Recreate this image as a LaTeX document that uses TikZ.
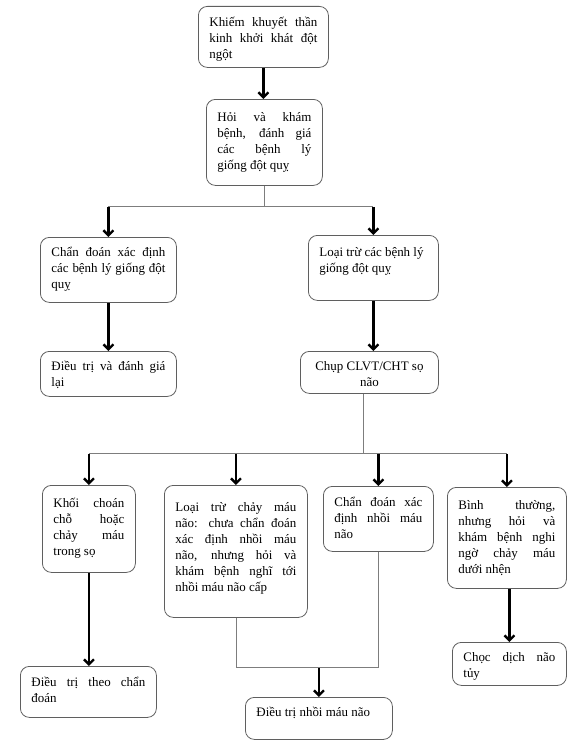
\documentclass[tikz,border=0pt]{standalone}
\usepackage{fontspec}
\setmainfont{Liberation Serif}
\usetikzlibrary{arrows.meta, positioning, calc}
\definecolor{BoxEdge}{RGB}{95,95,95}
\definecolor{LinkGrey}{RGB}{125,125,125}
% text block of a box: width, height, top shift, text
\newcommand{\flowtext}[4]{\parbox[c][#2bp][t]{\dimexpr#1bp-22bp\relax}{\fontsize{13}{16}\selectfont\mbox{}\par\vspace*{\dimexpr3bp+#3bp\relax}#4}}

\begin{document}
\begin{tikzpicture}[x=1bp, y=-1bp,
    flowbox/.style={draw=BoxEdge, line width=0.8pt, rounded corners=9pt, anchor=north west, inner xsep=11bp, inner ysep=0pt},
    link/.style={draw=LinkGrey, line width=0.8pt},
    arr/.style={draw=black, line width=2.4pt, -{Straight Barb[length=5pt,width=10pt]}}]

\useasboundingbox (0,0) rectangle (576,743);

\foreach \n/\x/\y/\w/\h/\dy/\t in {%
    onset/198/6/130/61/1/{Khiếm khuyết thần\linebreak kinh khởi khát đột\linebreak ngột},
    assess/206/99/116/86/3/{Hỏi và khám\linebreak bệnh, đánh giá\linebreak các bệnh lý\linebreak giống đột quỵ},
    mimicdx/40/237/136/65/0/{Chẩn đoán xác định\linebreak các bệnh lý giống đột\linebreak quỵ},
    mimicout/308/235/130/65/2/{Loại trừ các bệnh lý\\giống đột quỵ},
    treatmimic/40/351/136/45/0/{Điều trị và đánh giá\linebreak lại},
    imaging/300/351/138/42/0/{\centering Chụp CLVT/CHT sọ\\não},
    mass/42/485/93/87/3/{Khối choán\linebreak chỗ hoặc\linebreak chảy máu\linebreak trong sọ},
    excl/164/485/143/132/7/{Loại trừ chảy máu\linebreak não: chưa chẩn đoán\linebreak xác định nhồi máu\linebreak não, nhưng hỏi và\linebreak khám bệnh nghĩ tới\linebreak nhồi máu não cấp},
    infarct/323/486/110/65/1/{Chẩn đoán xác\linebreak định nhồi máu\linebreak não},
    normal/447/487/119/101/3/{Bình thường,\linebreak nhưng hỏi và\linebreak khám bệnh nghi\linebreak ngờ chảy máu\linebreak dưới nhện},
    treatdx/20/666/136/51/1/{Điều trị theo chẩn\linebreak đoán},
    treatinf/245/697/147/42/0/{Điều trị nhồi máu não},
    lumbar/452/642/114/43/0/{Chọc dịch não\linebreak tủy}}{%
    \node[flowbox] (\n) at (\x,\y) {\flowtext{\w}{\h}{\dy}{\t}};
}

% nhanh tren
\draw[arr] (onset.south) -- (onset.south |- assess.north);
\coordinate (split1) at ($(assess.south)+(0,21)$);
\draw[link] (assess.south) -- (split1);
\draw[link] (mimicdx.north |- split1) -- (mimicout.north |- split1);
\draw[arr] (mimicdx.north |- split1) -- (mimicdx.north);
\draw[arr] (mimicout.north |- split1) -- (mimicout.north);
\draw[arr] (mimicdx.south) -- (mimicdx.south |- treatmimic.north);
\draw[arr] (mimicout.south) -- (mimicout.south |- imaging.north);

% sau chup CLVT/CHT
\coordinate (split2) at ($(imaging.south)+(-6,60)$);
\draw[link] (split2 |- imaging.south) -- (split2);
\draw[link] (mass.north |- split2) -- (normal.north |- split2);
\foreach \m in {mass, excl, infarct, normal}
    \draw[arr] (\m.north |- split2) -- (\m.north);

% nhanh duoi
\draw[arr] (mass.south) -- (mass.south |- treatdx.north);
\coordinate (join) at ($(excl.south)+(0,50)$);
\draw[link] (excl.south) -- (join) -- (infarct.south |- join) -- (infarct.south);
\draw[arr] (treatinf.north |- join) -- (treatinf.north);
\draw[arr] (lumbar.north |- normal.south) -- (lumbar.north);

\end{tikzpicture}
\end{document}
